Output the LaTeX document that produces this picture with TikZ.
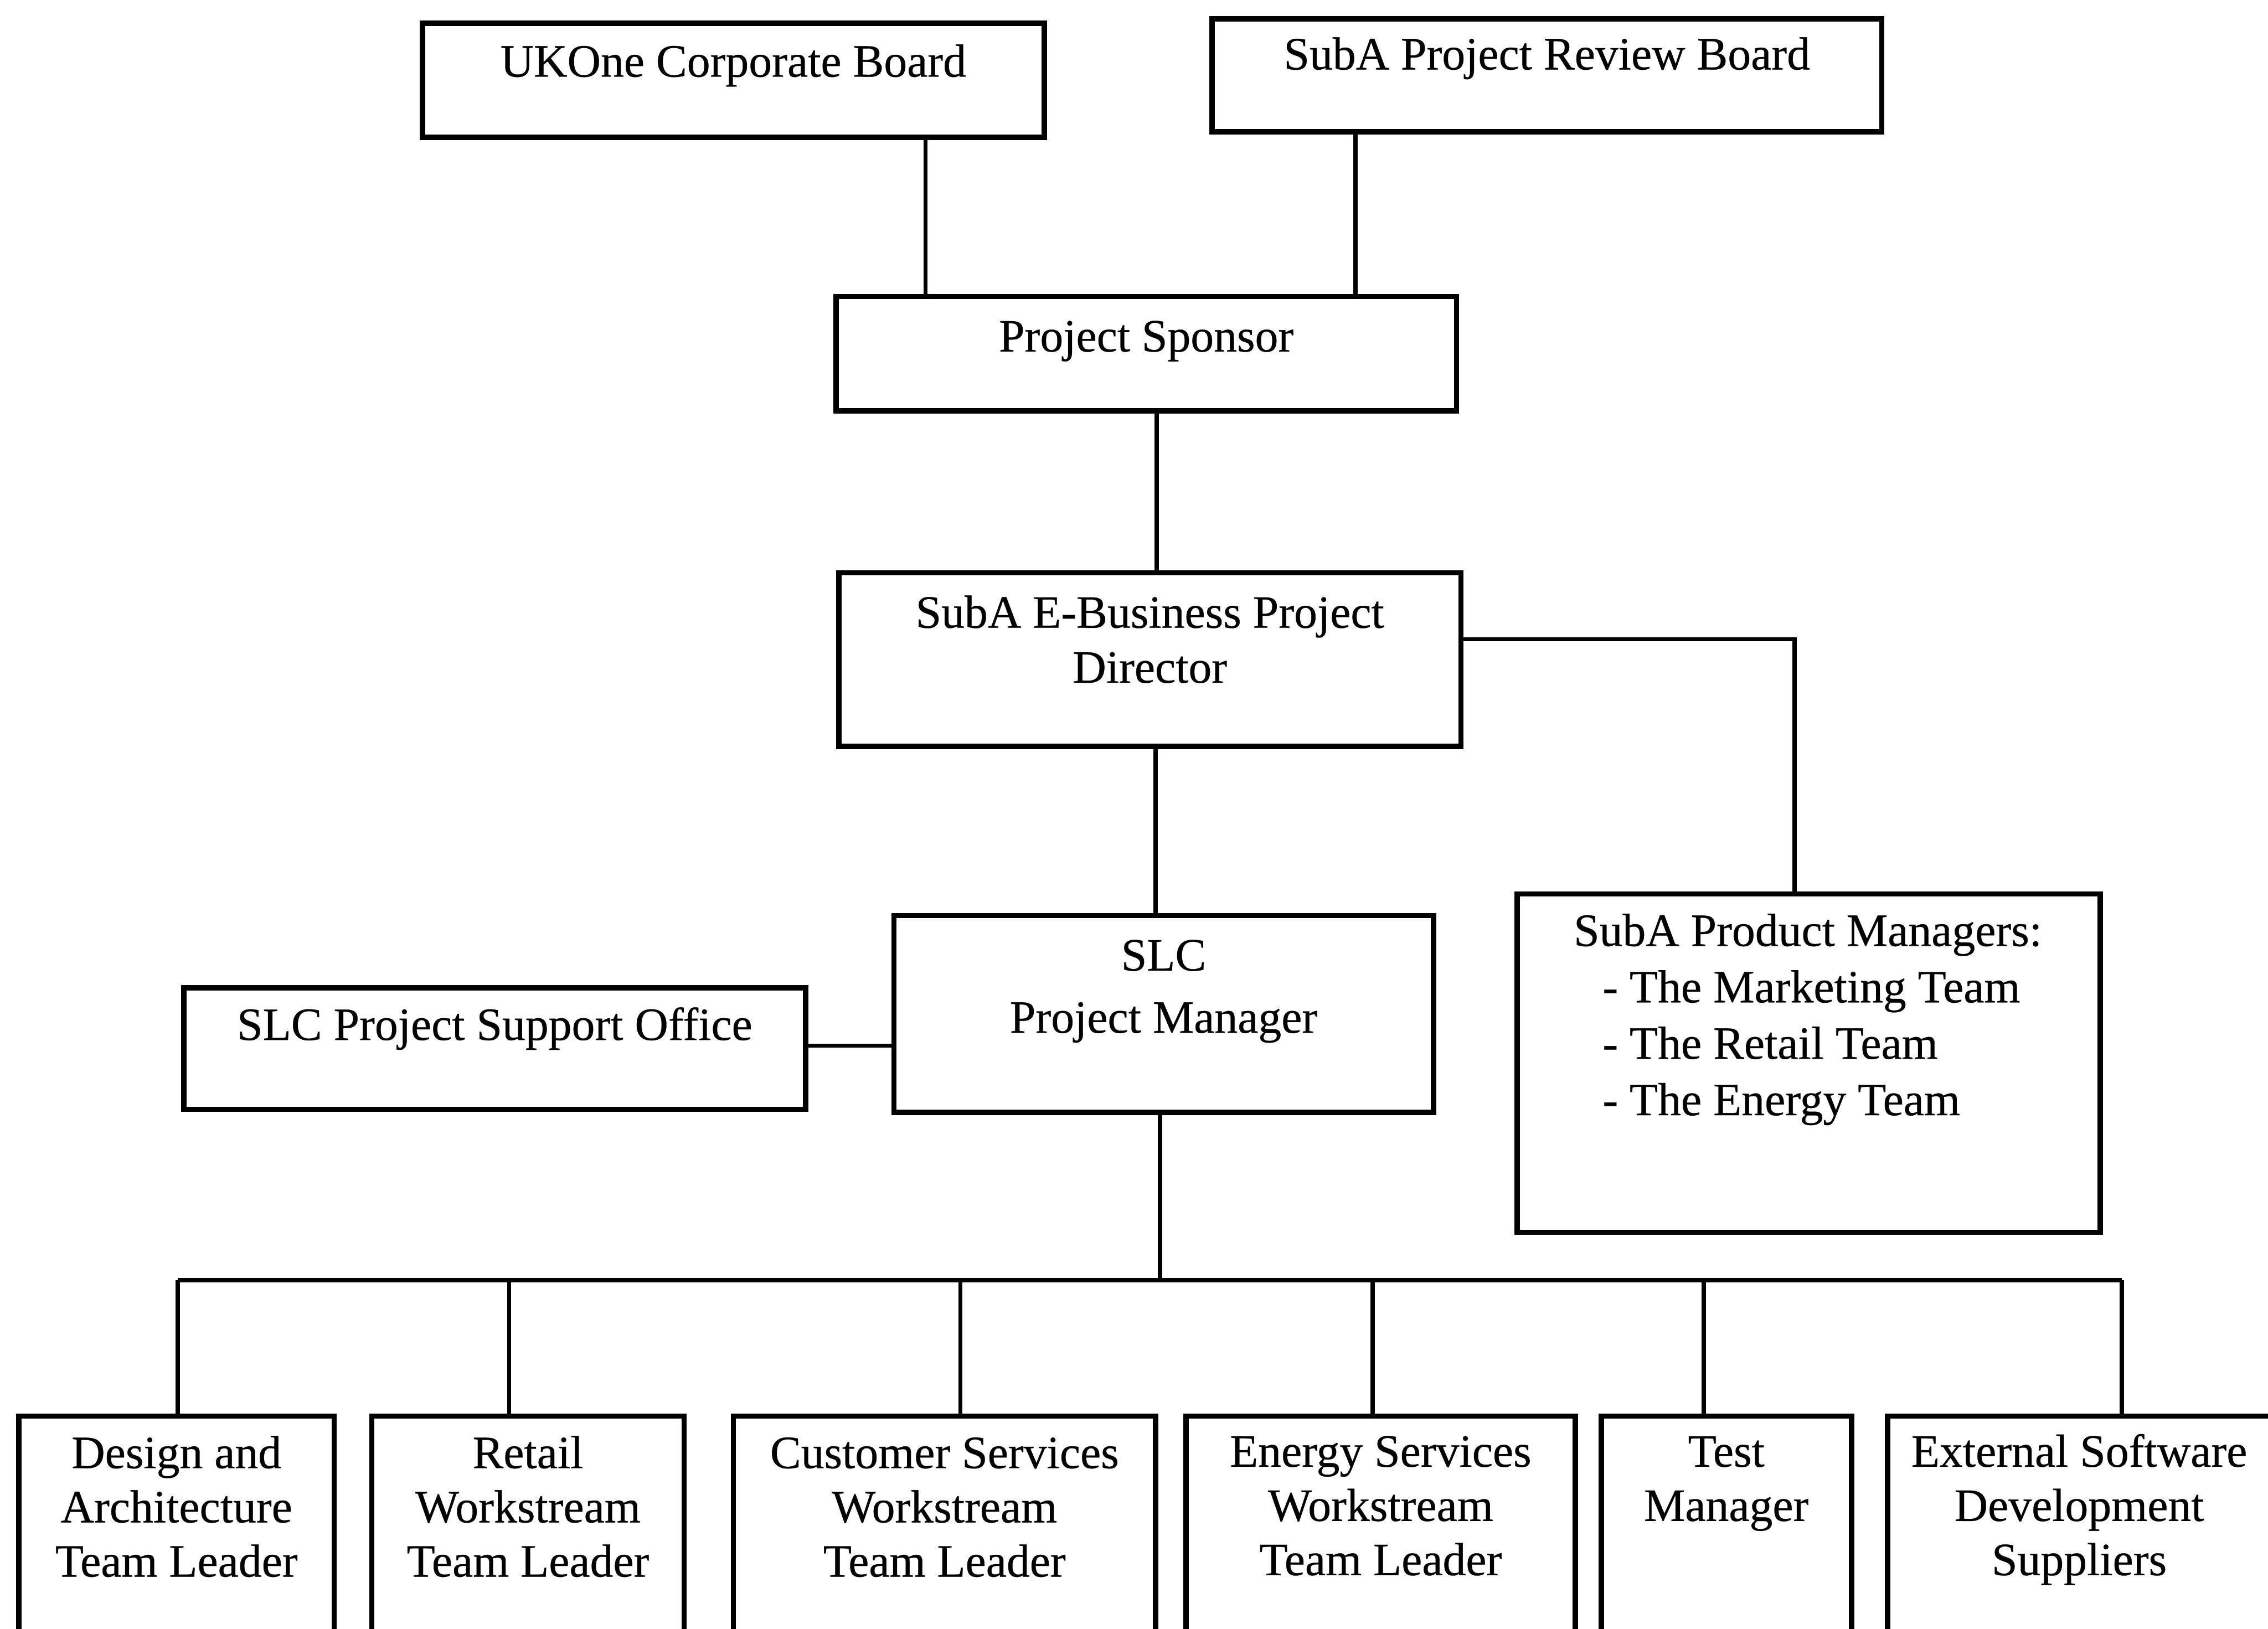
\documentclass[tikz,border=0pt]{standalone}
\usepackage{fontspec}
\setmainfont{Liberation Serif}[FakeBold=0.4]
\usetikzlibrary{calc}

% one drawing unit
\newlength\unitpx
\setlength\unitpx{0.27pt}

% box text: width, height, first baseline, line spacing, text
\newcommand\orgtext[5]{\parbox[c][#2\unitpx][t]{#1\unitpx}{\centering\baselineskip=#4\unitpx\relax\rule{0pt}{#3\unitpx}#5\par}}

\begin{document}
\begin{tikzpicture}[x=0.27pt,y=-0.27pt,
  orgbox/.style={draw, line width=1pt, inner sep=0pt, outer sep=0pt, anchor=north west,
    font=\fontsize{8.65pt}{10.3pt}\selectfont},
  link/.style={line width=0.8pt}]

\fill[white] (0,0) rectangle (1568,1126);
\useasboundingbox (0,0) rectangle (1568,1126);
\clip (0,0) rectangle (1568,1126);

% governance
\node[orgbox] (ukone) at (292,16) {\orgtext{430}{79}{37}{38}{UKOne Corporate Board}};
\node[orgbox] (review) at (838,13) {\orgtext{463}{78}{35}{38}{SubA Project Review Board}};
\node[orgbox] (sponsor) at (578,205) {\orgtext{429}{79}{38}{38}{Project Sponsor}};
\node[orgbox] (director) at (580,396) {\orgtext{430}{120}{38}{38}{SubA E-Business Project\\Director}};

% management
\node[orgbox] (pm) at (618,633) {\orgtext{373}{136}{38}{43}{SLC\\Project Manager}};
\node[orgbox] (support) at (127,683) {\orgtext{430}{84}{36}{38}{SLC Project Support Office}};
\node[orgbox] (product) at (1049,618) {\parbox[c][234\unitpx][t]{403\unitpx}{\raggedright
  \baselineskip=39\unitpx\relax\rule{0pt}{36\unitpx}\hspace*{39\unitpx}SubA Product Managers:\\
  \hspace*{59\unitpx}- The Marketing Team\\
  \hspace*{59\unitpx}- The Retail Team\\
  \hspace*{59\unitpx}- The Energy Team\par}};

% team leaders
\node[orgbox] (design) at (13,979) {\orgtext{218}{170}{36}{37.5}{Design and\\Architecture\\Team Leader}};
\node[orgbox] (retail) at (257,979) {\orgtext{216}{170}{36}{37.5}{Retail\\Workstream\\Team Leader}};
\node[orgbox] (cust) at (507,979) {\orgtext{292}{170}{36}{37.5}{Customer Services\\Workstream\\Team Leader}};
\node[orgbox] (energy) at (820,979) {\orgtext{269}{170}{35}{37.5}{Energy Services\\Workstream\\Team Leader}};
\node[orgbox] (test) at (1107,979) {\orgtext{173}{170}{35}{37.5}{Test\\Manager}};
\node[orgbox] (external) at (1305,979) {\orgtext{265}{170}{35}{37.5}{External Software\\Development\\Suppliers}};

% attachment points
\coordinate (ukoneFoot) at ($(ukone.south west)!0.809!(ukone.south east)$);
\coordinate (reviewFoot) at ($(review.south west)!0.214!(review.south east)$);
\coordinate (sponsorFoot) at ($(sponsor.south west)!0.517!(sponsor.south east)$);
\coordinate (dirFoot) at ($(director.south west)!0.509!(director.south east)$);
\coordinate (dirSide) at ($(director.north east)!0.383!(director.south east)$);
\coordinate (prodTop) at ($(product.north west)!0.476!(product.north east)$);
\coordinate (supSide) at ($(support.north east)!0.476!(support.south east)$);
\coordinate (pmFoot) at ($(pm.south west)!0.493!(pm.south east)$);
\coordinate (bus) at (0,885);
\coordinate (dDesign) at ($(design.north west)+(110,0)$);
\coordinate (dRetail) at ($(retail.north west)+(95,0)$);
\coordinate (dCust) at ($(cust.north west)+(157,0)$);
\coordinate (dEnergy) at ($(energy.north west)+(129,0)$);
\coordinate (dTest) at ($(test.north west)+(71,0)$);
\coordinate (dExternal) at ($(external.north west)+(162,0)$);

% connectors
\draw[link] (ukoneFoot) -- (ukoneFoot |- sponsor.north);
\draw[link] (reviewFoot) -- (reviewFoot |- sponsor.north);
\draw[link] (sponsorFoot) -- (sponsorFoot |- director.north);
\draw[link] (dirSide) -| (prodTop);
\draw[link] (dirFoot) -- (dirFoot |- pm.north);
\draw[link] (supSide) -- (supSide -| pm.west);
\draw[link] (pmFoot) -- (pmFoot |- bus);
\draw[link] (dDesign |- bus) -- (dExternal |- bus);
\foreach \d in {dDesign,dRetail,dCust,dEnergy,dTest,dExternal}
  \draw[link] (\d |- bus) -- (\d);

\end{tikzpicture}
\end{document}
